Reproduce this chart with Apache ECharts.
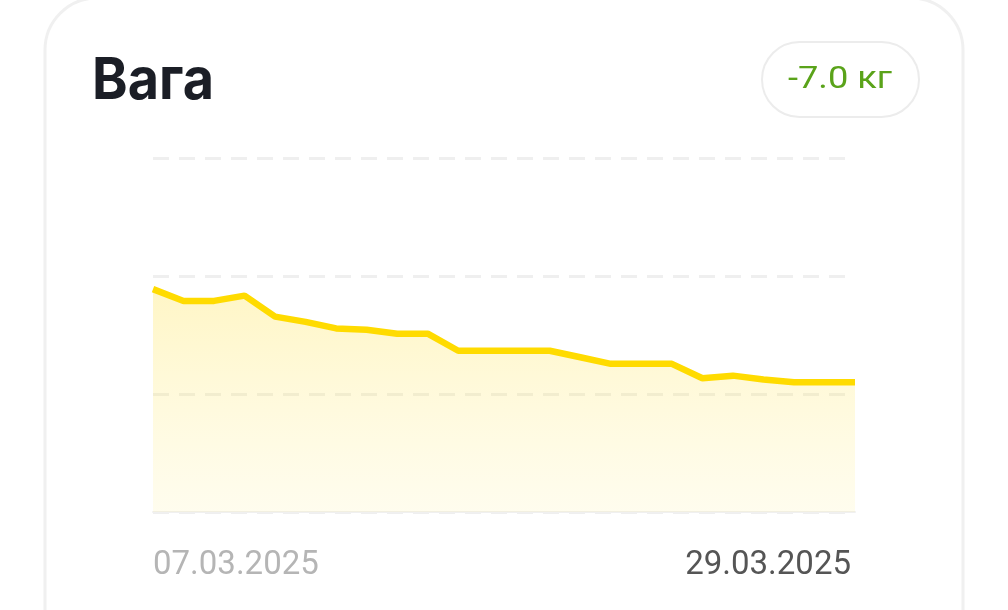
<!DOCTYPE html>
<html><head><meta charset="utf-8">
<script src="https://cdn.jsdelivr.net/npm/echarts@6/dist/echarts.min.js"></script>
<style>html,body{margin:0;padding:0;background:#fff;}#c{width:1008px;height:610px;}</style>
</head><body><div id="c"></div>
<script>
const titleText = 'Вага';
const badgeText = '-7.0 кг';
const dates = ['07.03.2025','08.03.2025','09.03.2025','10.03.2025','11.03.2025','12.03.2025','13.03.2025','14.03.2025','15.03.2025','16.03.2025','17.03.2025','18.03.2025','19.03.2025','20.03.2025','21.03.2025','22.03.2025','23.03.2025','24.03.2025','25.03.2025','26.03.2025','27.03.2025','28.03.2025','28.03.2025 ','29.03.2025'];
const weights = [80.0,79.1,79.1,79.5,77.9,77.5,77.0,76.9,76.6,76.6,75.3,75.3,75.3,75.3,74.8,74.3,74.3,74.3,73.2,73.4,73.1,72.9,72.9,72.9];
const yMin = 63, yMax = 90, yStep = 9;

const chart = echarts.init(document.getElementById('c'));
chart.setOption({
  animation:false,
  backgroundColor:'#fff',
  graphic:[
    {type:'rect', z:-10, shape:{x:45,y:-2,width:918,height:700,r:52},
     style:{fill:'#fff',stroke:'#f0f0f0',lineWidth:3}},
    {type:'text', x:92, y:82, scaleX:0.93, z:10,
     style:{text:titleText, font:'bold 58px Inter, "Noto Sans", sans-serif', fill:'#1b1e26', align:'left', verticalAlign:'middle'}},
    {type:'rect', z:10, shape:{x:762,y:42,width:157,height:75,r:37.5},
     style:{fill:'#fff',stroke:'#ececec',lineWidth:2}},
    {type:'text', z:11, x:840, y:80, scaleX:1.17,
     style:{text:badgeText, font:'31px Roboto, "Noto Sans", sans-serif', fill:'#5aa31a', align:'center', verticalAlign:'middle'}}
  ],
  grid:{left:153,right:153,top:158,bottom:98},
  xAxis:{type:'category', data:dates, boundaryGap:false,
    axisLine:{show:true,lineStyle:{color:'#f0f0f0',width:2}},
    axisTick:{show:false}, splitLine:{show:false},
    axisLabel:{
      interval:0, margin:37, alignMinLabel:'left', alignMaxLabel:'right',
      formatter:function(v,i){
        if(i===0) return '{a|'+v+'}';
        if(i===dates.length-1) return '{b|'+v.trim()+'}';
        return '';
      },
      rich:{
        a:{fontSize:33,fontFamily:'Roboto, sans-serif',color:'#b5b5b5'},
        b:{fontSize:33,fontFamily:'Roboto, sans-serif',color:'#555555',padding:[0,4,0,0]}
      }
    }
  },
  yAxis:{type:'value', min:yMin, max:yMax, interval:yStep,
    axisLabel:{show:false}, axisLine:{show:false}, axisTick:{show:false},
    splitLine:{show:true,lineStyle:{color:'#efefef',width:3,type:[16,10]}}
  },
  series:[{
    type:'line', data:weights, symbol:'none', smooth:false,
    lineStyle:{color:'#ffdb00',width:6.5},
    areaStyle:{origin:'start', color:new echarts.graphic.LinearGradient(0,0,0,1,[
      {offset:0,color:'rgba(255,224,60,0.42)'},
      {offset:1,color:'rgba(255,236,120,0.18)'}
    ])}
  }]
});
</script></body></html>
